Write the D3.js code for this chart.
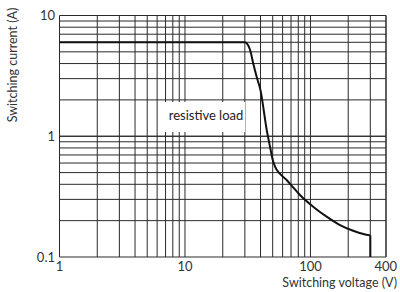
<!DOCTYPE html>
<html><head><meta charset="utf-8">
<script src="https://cdn.jsdelivr.net/npm/d3@7"></script>
<style>body{margin:0;background:#fff}svg{display:block}</style>
</head><body>
<script>
const voltage = [1, 30, 33, 35, 37.3, 40, 44.8, 47.6, 50, 52.2, 57, 64.6, 71.6, 82.5, 105, 134.5, 172, 219, 264, 300];
const current = [6, 6, 5.2, 4.0, 3.1, 2.4, 1.13, 0.82, 0.64, 0.56, 0.49, 0.434, 0.385, 0.326, 0.261, 0.216, 0.184, 0.165, 0.155, 0.151];
const cutoffVoltage = [300, 300];
const cutoffCurrent = [0.151, 0.1];
const xTicks = [1, 10, 100, 400];
const xTickLabels = ["1", "10", "100", "400"];
const yTicks = [0.1, 1, 10];
const yTickLabels = ["0.1", "1", "10"];
const xLabel = "Switching voltage (V)";
const yLabel = "Switching current (A)";
const annotation = "resistive load";

const W = 400, H = 292;
const svg = d3.select("body").append("svg").attr("width", W).attr("height", H);
const x = d3.scaleLog().domain([1, 400]).range([59.5, 386]);
const y = d3.scaleLog().domain([0.1, 10]).range([257, 15.5]);
const font = "Lato, 'Open Sans', sans-serif";

const xGrid = [];
for (const dec of [1, 10, 100]) for (let k = 1; k <= 9; k++) { const v = dec * k; if (v <= 400) xGrid.push(v); }
xGrid.push(400);
const yGrid = [];
for (const dec of [0.1, 1]) for (let k = 1; k <= 10; k++) yGrid.push(+(dec * k).toFixed(3));

const g = svg.append("g");
g.selectAll("line.h").data(yGrid).join("line")
  .attr("x1", x(1)).attr("x2", x(400)).attr("y1", d => y(d)).attr("y2", d => y(d))
  .attr("stroke", "#2a2a2a").attr("stroke-width", 1);
g.selectAll("line.v").data(xGrid).join("line")
  .attr("y1", y(0.1)).attr("y2", y(10)).attr("x1", d => x(d)).attr("x2", d => x(d))
  .attr("stroke", "#2a2a2a").attr("stroke-width", 1);

svg.append("rect").attr("x", 161).attr("y", 102).attr("width", 84).attr("height", 30).attr("fill", "#fff");
svg.append("text").attr("x", 206).attr("y", 120).attr("text-anchor", "middle")
  .attr("font-family", font).attr("font-size", 13).attr("fill", "#222").text(annotation);

svg.append("path").datum(voltage).attr("d", d3.line()
    .x((d, i) => x(voltage[i])).y((d, i) => y(current[i])).curve(d3.curveMonotoneX))
  .attr("fill", "none").attr("stroke", "#111").attr("stroke-width", 2).attr("stroke-linejoin", "round");
svg.append("path").datum(cutoffVoltage).attr("d", d3.line()
    .x((d, i) => x(cutoffVoltage[i])).y((d, i) => y(cutoffCurrent[i])))
  .attr("fill", "none").attr("stroke", "#111").attr("stroke-width", 2);

svg.selectAll("text.xt").data(xTicks).join("text")
  .attr("x", (d, i) => i === 3 ? 397 : x(d)).attr("y", 270.5)
  .attr("text-anchor", (d, i) => i === 3 ? "end" : "middle")
  .attr("font-family", font).attr("font-size", 13).attr("fill", "#333")
  .text((d, i) => xTickLabels[i]);
svg.selectAll("text.yt").data(yTicks).join("text")
  .attr("x", 55).attr("y", d => y(d) + 4.5).attr("text-anchor", "end")
  .attr("font-family", font).attr("font-size", 13).attr("fill", "#333")
  .text((d, i) => yTickLabels[i]);

svg.append("text").attr("x", 397).attr("y", 287).attr("text-anchor", "end")
  .attr("font-family", font).attr("font-size", 12.5).attr("fill", "#333").text(xLabel);
svg.append("text").attr("transform", "translate(17,65) rotate(-90)").attr("text-anchor", "middle")
  .attr("font-family", font).attr("font-size", 12.5).attr("fill", "#333").text(yLabel);
</script>
</body></html>
